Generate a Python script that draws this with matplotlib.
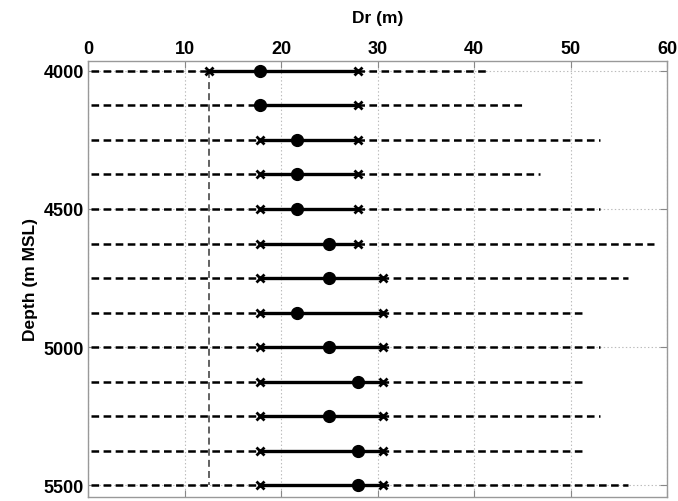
import matplotlib
matplotlib.use("Agg")
import matplotlib.pyplot as plt

depths = [4000, 4125, 4250, 4375, 4500, 4625, 4750, 4875, 5000, 5125, 5250, 5375, 5500]
dr_best = [17.8, 17.8, 21.7, 21.7, 21.7, 25.0, 25.0, 21.7, 25.0, 28.0, 25.0, 28.0, 28.0]
dr_low = [12.5, 17.8, 17.8, 17.8, 17.8, 17.8, 17.8, 17.8, 17.8, 17.8, 17.8, 17.8, 17.8]
dr_high = [28.0, 28.0, 28.0, 28.0, 28.0, 28.0, 30.6, 30.6, 30.6, 30.6, 30.6, 30.6, 30.6]
dr_max = [41.5, 45.1, 53.1, 46.8, 53.1, 58.7, 56.0, 51.6, 53.1, 51.6, 53.1, 51.6, 56.0]
dr_min_limit = 12.5
x_ticks = [0, 10, 20, 30, 40, 50, 60]
y_ticks = [4000, 4500, 5000, 5500]

plt.rcParams['font.family'] = ['Liberation Sans', 'DejaVu Sans']
plt.rcParams['font.weight'] = 'bold'
plt.rcParams['lines.scale_dashes'] = False

fig = plt.figure(figsize=(6.78, 5.02), dpi=100)
ax = fig.add_axes([0.1298, 0.008, 0.854, 0.8685])

for d, lo, hi, best, mx in zip(depths, dr_low, dr_high, dr_best, dr_max):
    ax.plot([0.3, mx], [d, d], color='black', lw=1.8, dashes=(5.5, 3.2), zorder=2)
    ax.plot([lo, hi], [d, d], color='black', lw=2.4, solid_capstyle='butt', zorder=3)
    ax.plot([lo, hi], [d, d], ls='none', marker='x', color='black', ms=6, mew=2.0, zorder=4)
    ax.plot([best], [d], ls='none', marker='o', color='black', ms=8.5, zorder=5)

ax.plot([dr_min_limit, dr_min_limit], [depths[0], depths[-1]], color='#555555', lw=1.3,
        dashes=(5, 3), zorder=1)

ax.set_xlim(0, 60)
ax.set_ylim(5543, 3964)
ax.xaxis.tick_top()
ax.xaxis.set_label_position('top')
ax.set_xticks(x_ticks)
ax.set_yticks(y_ticks)
ax.tick_params(axis='both', which='both', direction='in', length=5, width=0.8,
               labelsize=13, colors='#888888', labelcolor='black', top=True, right=True,
               bottom=True, left=True, pad=3)
for lab in ax.get_xticklabels() + ax.get_yticklabels():
    lab.set_fontweight('bold')
ax.set_xlabel('Dr (m)', fontsize=12.5, fontweight='bold', labelpad=13)
ax.set_ylabel('Depth (m MSL)', fontsize=12.5, fontweight='bold', labelpad=4)
ax.grid(True, color='#bbbbbb', ls=':', lw=0.8, zorder=0)
for s in ax.spines.values():
    s.set_color('#999999')
    s.set_linewidth(1.0)

fig.savefig('out.png', dpi=100)
